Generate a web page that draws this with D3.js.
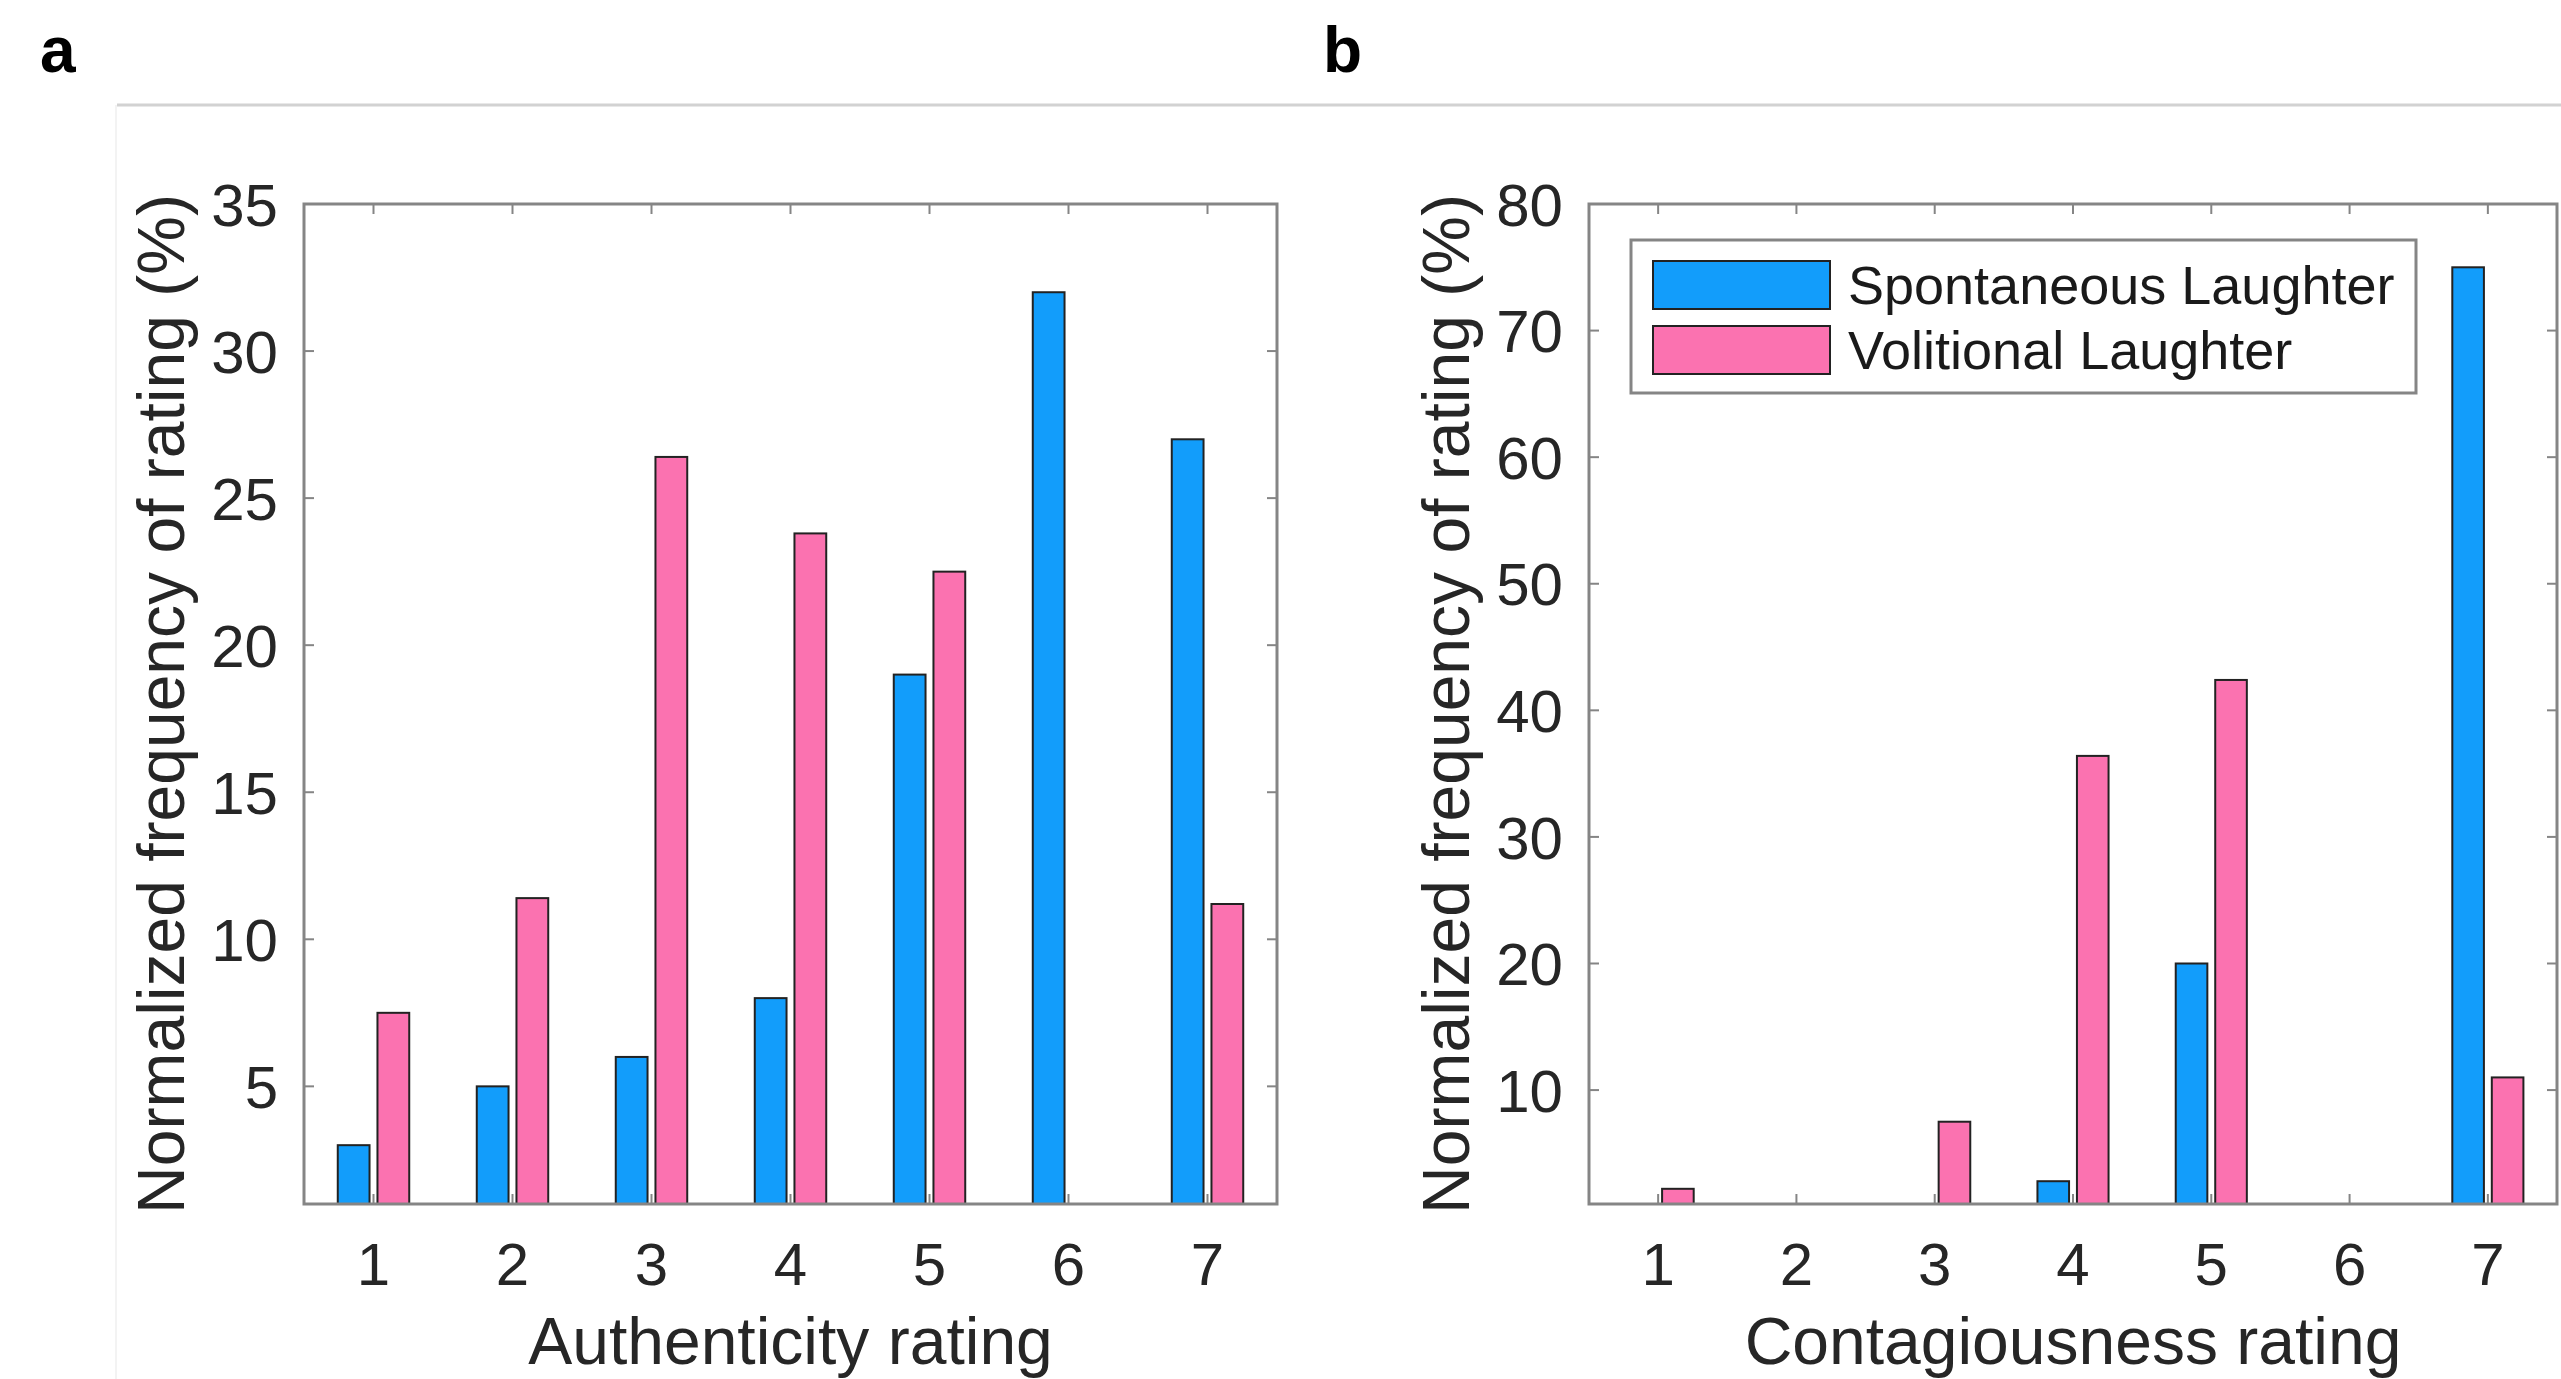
<!DOCTYPE html>
<html>
<head>
<meta charset="utf-8">
<script src="https://cdn.jsdelivr.net/npm/d3@7"></script>
<style>
  html, body { margin: 0; padding: 0; background: #fff; }
  svg { display: block; font-family: "Liberation Sans", Arial, Helvetica, sans-serif; }
</style>
</head>
<body>
<div id="chart"></div>
<script>
var categories = [1, 2, 3, 4, 5, 6, 7];
var seriesNames = ["Spontaneous Laughter", "Volitional Laughter"];
var seriesColors = ["#129dfb", "#fb72b0"];

// panel a: authenticity
var authSpontaneous = [3, 5, 6, 8, 19, 32, 27];
var authVolitional = [7.5, 11.4, 26.4, 23.8, 22.5, 0, 11.2];
var authTicks = [5, 10, 15, 20, 25, 30, 35];

// panel b: contagiousness
var contSpontaneous = [0, 0, 0, 2.8, 20, 0, 75];
var contVolitional = [2.2, 0, 7.5, 36.4, 42.4, 0, 11];
var contTicks = [10, 20, 30, 40, 50, 60, 70, 80];

var W = 2561, H = 1379;
var svg = d3.select("#chart").append("svg")
  .attr("width", W)
  .attr("height", H);

// header rule and faint frame line
svg.append("line")
  .attr("x1", 117).attr("x2", W).attr("y1", 105).attr("y2", 105)
  .attr("stroke", "#d2d2d2").attr("stroke-width", 3);
svg.append("line")
  .attr("x1", 116).attr("x2", 116).attr("y1", 105).attr("y2", H)
  .attr("stroke", "#f3f3f3").attr("stroke-width", 2);

svg.append("text").attr("x", 40).attr("y", 72)
  .attr("font-size", 64).attr("font-weight", "bold").text("a");
svg.append("text").attr("x", 1323).attr("y", 72)
  .attr("font-size", 64).attr("font-weight", "bold").text("b");

var drawPanel = function(id, left, right, top, bottom, yMax, ticks, spont, vol, xLabel, withLegend) {
  var x = d3.scaleLinear().domain([0.5, 7.5]).range([left, right]);
  var y = d3.scaleLinear().domain([1, yMax]).range([bottom, top]);

  var g = svg.append("g").attr("class", "panel-" + id);

  g.append("clipPath").attr("id", "clip-" + id)
    .append("rect")
    .attr("x", left).attr("y", top)
    .attr("width", right - left).attr("height", bottom - top);

  var barW = 0.2286, offs = [-0.1428, 0.1428];
  var data = [spont, vol];
  var bars = g.append("g").attr("clip-path", "url(#clip-" + id + ")");
  data.forEach(function(vals, s) {
    bars.selectAll("rect.s" + s)
      .data(vals)
      .enter().append("rect")
      .attr("class", "s" + s)
      .attr("x", function(d, i) { return x(categories[i] + offs[s] - barW / 2); })
      .attr("width", x(barW) - x(0))
      .attr("y", function(d) { return y(d); })
      .attr("height", function(d) { return y(0) - y(d); })
      .attr("fill", seriesColors[s])
      .attr("stroke", "#222")
      .attr("stroke-width", 2);
  });

  var axisColor = "#858585";
  var tickLen = 10;

  // box
  g.append("rect")
    .attr("x", left).attr("y", top)
    .attr("width", right - left).attr("height", bottom - top)
    .attr("fill", "none").attr("stroke", axisColor).attr("stroke-width", 3);

  // inward ticks on all sides
  var xt = g.append("g");
  categories.forEach(function(c) {
    xt.append("line").attr("x1", x(c)).attr("x2", x(c))
      .attr("y1", bottom).attr("y2", bottom - tickLen)
      .attr("stroke", axisColor).attr("stroke-width", 2);
    xt.append("line").attr("x1", x(c)).attr("x2", x(c))
      .attr("y1", top).attr("y2", top + tickLen)
      .attr("stroke", axisColor).attr("stroke-width", 2);
  });
  ticks.forEach(function(t) {
    xt.append("line").attr("x1", left).attr("x2", left + tickLen)
      .attr("y1", y(t)).attr("y2", y(t))
      .attr("stroke", axisColor).attr("stroke-width", 2);
    xt.append("line").attr("x1", right).attr("x2", right - tickLen)
      .attr("y1", y(t)).attr("y2", y(t))
      .attr("stroke", axisColor).attr("stroke-width", 2);
  });

  // tick labels
  g.selectAll("text.xtick")
    .data(categories)
    .enter().append("text")
    .attr("class", "xtick")
    .attr("x", function(d) { return x(d); })
    .attr("y", bottom + 81)
    .attr("text-anchor", "middle")
    .attr("font-size", 60)
    .attr("fill", "#262626")
    .text(function(d) { return d; });

  g.selectAll("text.ytick")
    .data(ticks)
    .enter().append("text")
    .attr("class", "ytick")
    .attr("x", left - 26)
    .attr("y", function(d) { return y(d); })
    .attr("dy", "0.36em")
    .attr("text-anchor", "end")
    .attr("font-size", 60)
    .attr("fill", "#262626")
    .text(function(d) { return d; });

  g.append("text")
    .attr("x", (left + right) / 2)
    .attr("y", 1364)
    .attr("text-anchor", "middle")
    .attr("font-size", 66)
    .attr("fill", "#262626")
    .text(xLabel);

  g.append("text")
    .attr("transform", "translate(" + (left - 120) + "," + ((top + bottom) / 2) + ") rotate(-90)")
    .attr("text-anchor", "middle")
    .attr("font-size", 66)
    .attr("fill", "#262626")
    .text("Normalized frequency of rating (%)");

  if (withLegend) {
    var lg = g.append("g");
    lg.append("rect")
      .attr("x", 1631).attr("y", 240).attr("width", 785).attr("height", 153)
      .attr("fill", "#fff").attr("stroke", axisColor).attr("stroke-width", 3);
    seriesNames.forEach(function(name, s) {
      var cy = 285 + s * 65;
      lg.append("rect")
        .attr("x", 1653).attr("y", cy - 24).attr("width", 177).attr("height", 48)
        .attr("fill", seriesColors[s]).attr("stroke", "#222").attr("stroke-width", 2);
      lg.append("text")
        .attr("x", 1848).attr("y", cy).attr("dy", "0.36em")
        .attr("font-size", 54).attr("fill", "#1a1a1a")
        .text(name);
    });
  }
};

drawPanel("a", 304, 1277, 204, 1204, 35, authTicks, authSpontaneous, authVolitional, "Authenticity rating", false);
drawPanel("b", 1589, 2557, 204, 1204, 80, contTicks, contSpontaneous, contVolitional, "Contagiousness rating", true);
</script>
</body>
</html>
